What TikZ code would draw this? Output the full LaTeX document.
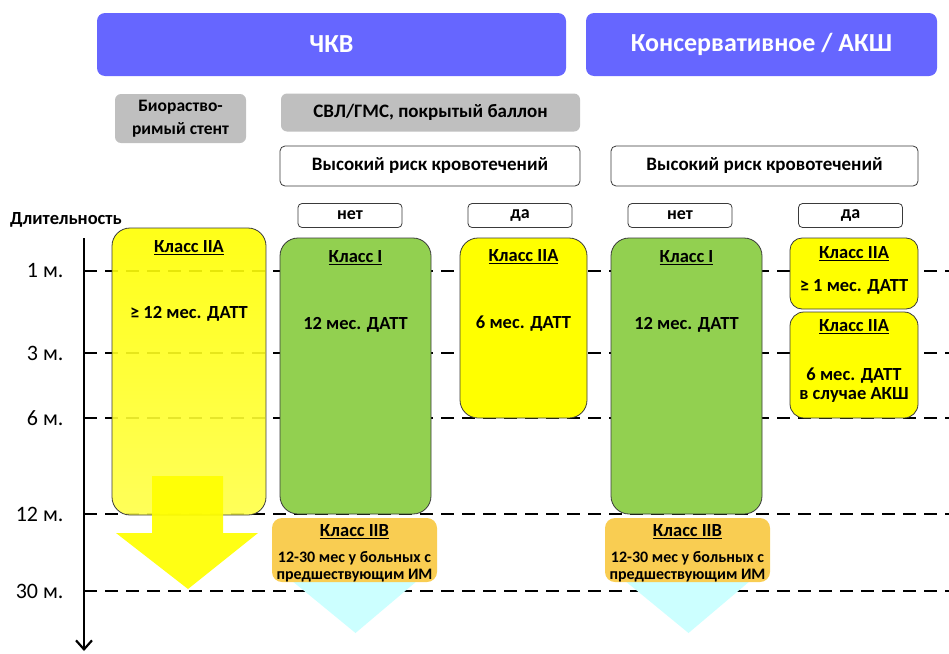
\documentclass[tikz,border=0pt]{standalone}
\usepackage{fontspec}
\setmainfont{Carlito}
\usetikzlibrary{arrows.meta, positioning}

\definecolor{sinij}{HTML}{6666FF}
\definecolor{seryj}{HTML}{BFBFBF}
\definecolor{zheltyj}{HTML}{FFFF00}
\definecolor{zelenyj}{HTML}{92D050}
\definecolor{oranzh}{HTML}{F9CD52}
\definecolor{goluboj}{HTML}{CCFFFF}
\definecolor{kontur}{HTML}{3A3A3A}

\begin{document}
\begin{tikzpicture}[
    x=1pt, y=-1pt,
    shapka/.style={
        rectangle,
        rounded corners=8pt,
        fill=sinij,
        text=white,
        inner sep=0pt,
        font=\fontsize{26}{30}\selectfont\bfseries
    },
    metod/.style={
        rectangle,
        rounded corners=6pt,
        fill=seryj,
        inner sep=0pt,
        align=center,
        font=\fontsize{17.5}{23}\selectfont\bfseries
    },
    risk/.style={
        rectangle,
        rounded corners=5pt,
        draw=kontur,
        thick,
        fill=white,
        inner sep=0pt,
        font=\fontsize{19}{22}\selectfont\bfseries
    },
    otvet/.style={
        risk,
        rounded corners=4pt,
        font=\fontsize{18}{20}\selectfont\bfseries
    },
    klass/.style={
        rectangle,
        rounded corners=18pt,
        draw=kontur,
        thick,
        inner sep=0pt
    },
    nadpis/.style={
        align=center,
        inner sep=1pt,
        font=\fontsize{18.5}{19}\selectfont\bfseries
    },
    setka/.style={
        dashed,
        dash pattern=on 13pt off 8pt,
        line width=2pt
    },
    srok/.style={
        anchor=east,
        font=\fontsize{22}{24}\selectfont
    }
]
\useasboundingbox (0,0) rectangle (949,653);

% Шкала длительности
\foreach \y/\t in {271/1 м., 353/3 м., 418/6 м., 514/12 м., 591/30 м.}{
    \node (srok\y) [srok] at (67,\y) {\t};
    \draw[setka] (84,\y) -- (949,\y);
}
\coordinate (os0) at (84,238);
\coordinate (os1) at (84,651);
\draw[line width=2.5pt, -{Straight Barb[length=9pt,width=16pt,line width=2.2pt]}] (os0) -- (os1);
\node (dlit) [font=\fontsize{18.5}{20}\selectfont\bfseries] at (66,220) {Длительность};

% Заголовки
\node (chkv) [shapka, minimum width=469pt, minimum height=63pt] at (331.5,44.5) {ЧКВ};
\node (kons) [shapka, minimum width=351pt, minimum height=63pt] at (761.5,44.5) {Консервативное / АКШ};

% Тип вмешательства
\node (bio) [metod, minimum width=131pt, minimum height=49pt] at (180.5,118.5) {Биораство-\\римый стент};
\node (svl) [metod, font=\fontsize{19}{22}\selectfont\bfseries, minimum width=299pt, minimum height=38pt] at (430.5,112.5) {СВЛ/ГМС, покрытый баллон};

% Риск кровотечений
\node (risk1) [risk, minimum width=300pt, minimum height=40pt] at (430,166) {Высокий риск кровотечений};
\node (risk2) [risk, minimum width=307pt, minimum height=40pt] at (764.5,166) {Высокий риск кровотечений};

\node (net1) [otvet, minimum width=104pt, minimum height=24pt] at (350,215.5) {нет};
\node (da1)  [otvet, minimum width=104pt, minimum height=24pt] at (520,215.5) {да};
\node (net2) [otvet, minimum width=104pt, minimum height=24pt] at (680,215.5) {нет};
\node (da2)  [otvet, minimum width=104pt, minimum height=24pt] at (850.5,215.5) {да};

% Биорастворимый стент: >= 12 мес.
\node (bvs) [klass, top color=zheltyj, middle color=zheltyj, bottom color=zheltyj!72!white,
             fill opacity=0.9, minimum width=154pt, minimum height=287pt] at (189,371.5) {};
\fill[zheltyj, fill opacity=0.92]
    (152,476) -- (223,476) -- (223,533) -- (258,533) -- (188,589) -- (116,533) -- (152,533) -- cycle;
\node (bvs1) [nadpis] at (189,248) {\underline{Класс IIA}};
\node (bvs2) [nadpis] at (189,314) {≥ 12 мес. ДАТТ};

% ЧКВ, нет риска
\node (zel1) [klass, fill=zelenyj, minimum width=151pt, minimum height=276pt] at (355.5,376) {};
\node (zel1a) [nadpis] at (355.5,258) {\underline{Класс I}};
\node (zel1b) [nadpis] at (355.5,325) {12 мес. ДАТТ};

% ЧКВ, высокий риск
\node (zh1) [klass, fill=zheltyj, minimum width=127pt, minimum height=180pt] at (523.5,328) {};
\node (zh1a) [nadpis] at (523.5,257) {\underline{Класс IIA}};
\node (zh1b) [nadpis] at (523.5,324) {6 мес. ДАТТ};

% Консервативное, нет риска
\node (zel2) [klass, fill=zelenyj, minimum width=151pt, minimum height=276pt] at (686.5,376) {};
\node (zel2a) [nadpis] at (686.5,258) {\underline{Класс I}};
\node (zel2b) [nadpis] at (686.5,325) {12 мес. ДАТТ};

% Консервативное, высокий риск
\node (zh2) [klass, rounded corners=12pt, fill=zheltyj, minimum width=128pt, minimum height=71pt] at (854,273.5) {};
\node (zh2a) [nadpis] at (854,254) {\underline{Класс IIA}};
\node (zh2b) [nadpis] at (854,287) {≥ 1 мес. ДАТТ};
\node (zh3) [klass, rounded corners=14pt, fill=zheltyj, minimum width=128pt, minimum height=106pt] at (854,365) {};
\node (zh3a) [nadpis] at (854,327) {\underline{Класс IIA}};
\node (zh3b) [nadpis] at (854,385) {6 мес. ДАТТ\\в случае АКШ};

% Класс IIB: 12-30 мес.
\foreach \n/\x in {1/354.5, 2/687.5}{
    \fill[goluboj] (\x-66,578) -- (\x+66,578) -- (\x+1,633) -- cycle;
    \node (iib\n) [rectangle, rounded corners=10pt, fill=oranzh, inner sep=0pt,
                   minimum width=165pt, minimum height=64pt] at (\x,550) {};
    \node (iib\n a) [nadpis] at (\x,532) {\underline{Класс IIB}};
    \node (iib\n b) [nadpis, inner sep=0pt, font=\fontsize{16}{16.5}\selectfont\bfseries] at (\x,567) {12-30 мес у больных с\\предшествующим ИМ};
}

\end{tikzpicture}
\end{document}
